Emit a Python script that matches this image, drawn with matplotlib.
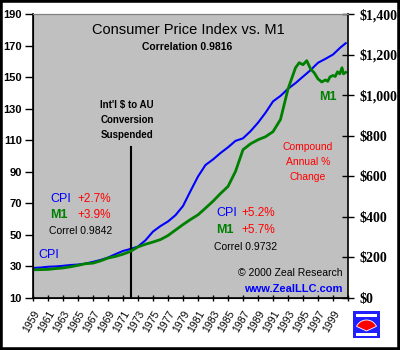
import matplotlib.pyplot as plt
from matplotlib.patches import Rectangle, Wedge

# CPI (left axis), values read at start of each year
cpi_years = [1959, 1960, 1961, 1962, 1963, 1964, 1965, 1966, 1967, 1968, 1969,
             1970, 1971, 1972, 1973, 1974, 1975, 1976, 1977, 1978, 1979, 1980,
             1981, 1982, 1983, 1984, 1985, 1986, 1987, 1988, 1989, 1990, 1991,
             1992, 1993, 1994, 1995, 1996, 1997, 1998, 1999, 2000, 2000.7]
cpi = [29.0, 29.3, 29.8, 30.0, 30.4, 30.9, 31.2, 31.8, 32.9, 34.1, 35.6,
       37.8, 39.8, 41.1, 42.6, 46.6, 52.1, 55.6, 58.5, 62.5, 68.3, 77.8,
       87.0, 94.3, 97.8, 101.9, 105.5, 109.6, 111.2, 115.7, 121.1, 127.4, 134.6,
       138.1, 142.6, 146.2, 150.3, 154.4, 159.1, 161.6, 164.3, 168.8, 171.5]

# M1 money supply, $ billions (right axis)
m1_years = [1959, 1960, 1961, 1962, 1963, 1964, 1965, 1966, 1967, 1968, 1969,
            1970, 1971, 1972, 1973, 1974, 1975, 1976, 1977, 1978, 1979, 1980,
            1981, 1982, 1983, 1984, 1985, 1986, 1987, 1988, 1989, 1990, 1991,
            1992, 1993, 1994, 1994.5, 1995, 1995.5, 1996, 1996.5, 1997, 1997.5,
            1998, 1998.3, 1998.6, 1999, 1999.3, 1999.6, 1999.9, 2000.2, 2000.4, 2000.7]
m1 = [139, 140, 141, 145, 148, 154, 161, 169, 172, 183, 197,
      205, 216, 230, 252, 265, 276, 288, 308, 335, 362, 387,
      410, 443, 477, 515, 550, 624, 731, 760, 780, 795, 820,
      880, 1030, 1135, 1160, 1150, 1170, 1130, 1110, 1080, 1065,
      1075, 1068, 1090, 1097, 1092, 1115, 1105, 1135, 1105, 1112]

year_ticks = list(range(1959, 2002, 2))
year_labels = [str(y) for y in range(1959, 2000, 2)] + ['']
left_ticks = list(range(10, 191, 20))
right_ticks = list(range(0, 1401, 200))
right_labels = ['$0', '$200', '$400', '$600', '$800', '$1,000', '$1,200', '$1,400']

W, H = 400, 350
fig = plt.figure(figsize=(4, 3.5), dpi=100)
fig.patch.set_facecolor('white')


def px(x, y):
    return x / W, 1 - y / H


ax = fig.add_axes([33 / W, 52 / H, 315 / W, 284 / H])
ax.set_facecolor('#C0C0C0')
ax.plot(cpi_years, cpi, color='#0000FF', lw=1.5)
ax.set_xlim(1959, 2001)
ax.set_ylim(10, 190)
ax.set_yticks(left_ticks)
ax.set_yticklabels([str(v) for v in left_ticks], fontsize=8, fontweight='bold',
                   family='Liberation Sans')
ax.set_xticks(year_ticks)
ax.set_xticklabels(year_labels, rotation=60, ha='right', rotation_mode='anchor',
                   fontsize=7.5, family='Liberation Sans')
ax.tick_params(axis='x', length=4, width=1, direction='inout', pad=6)
ax.tick_params(axis='y', length=6, width=1, direction='out', pad=2)
ax.axvline(1972.1, ymin=0, ymax=(298 - 147) / 284, color='black', lw=1.5)
for s in ['left', 'bottom']:
    ax.spines[s].set_linewidth(1.2)
ax.spines['top'].set_color('#808080')
ax.spines['right'].set_visible(False)

ax2 = ax.twinx()
ax2.plot(m1_years, m1, color='#008000', lw=2)
ax2.set_ylim(0, 1400)
ax2.set_yticks(right_ticks)
ax2.set_yticklabels(right_labels, fontsize=10, fontweight='bold', family='Liberation Serif')
ax2.tick_params(axis='y', length=8, width=1, direction='inout', pad=4)
ax2.spines['right'].set_linewidth(1.2)
ax2.spines['top'].set_color('#808080')

sans = 'Liberation Sans'
fig.text(*px(188, 30), 'Consumer Price Index vs. M1', ha='center', va='center',
         fontsize=10.5, family=sans)
fig.text(*px(187, 47), 'Correlation 0.9816', ha='center', va='center',
         fontsize=7.5, fontweight='bold', family=sans)
for i, line in enumerate(["Int'l $ to AU", 'Conversion', 'Suspended']):
    fig.text(*px(127, 105 + i * 15), line, ha='center', va='center',
             fontsize=7, fontweight='bold', family=sans)

fig.text(*px(50, 199), 'CPI', ha='left', va='center', color='#0000FF', fontsize=9, family=sans)
fig.text(*px(77, 199), '+2.7%', ha='left', va='center', color='#FF0000', fontsize=8.5, family=sans)
fig.text(*px(50, 215), 'M1', ha='left', va='center', color='#008000', fontsize=9,
         fontweight='bold', family=sans)
fig.text(*px(77, 215), '+3.9%', ha='left', va='center', color='#FF0000', fontsize=8.5, family=sans)
fig.text(*px(49, 231), 'Correl 0.9842', ha='left', va='center', fontsize=7.5, family=sans)

fig.text(*px(216, 213), 'CPI', ha='left', va='center', color='#0000FF', fontsize=9, family=sans)
fig.text(*px(241, 213), '+5.2%', ha='left', va='center', color='#FF0000', fontsize=8.5, family=sans)
fig.text(*px(216, 230), 'M1', ha='left', va='center', color='#008000', fontsize=9,
         fontweight='bold', family=sans)
fig.text(*px(241, 230), '+5.7%', ha='left', va='center', color='#FF0000', fontsize=8.5, family=sans)
fig.text(*px(214, 247), 'Correl 0.9732', ha='left', va='center', fontsize=7.5, family=sans)

fig.text(*px(38, 255), 'CPI', ha='left', va='center', color='#0000FF', fontsize=9, family=sans)
fig.text(*px(319, 97), 'M1', ha='left', va='center', color='#008000', fontsize=9,
         fontweight='bold', family=sans)
for i, line in enumerate(['Compound', 'Annual %', 'Change']):
    fig.text(*px(308, 147 + i * 15), line, ha='center', va='center', color='#FF0000',
             fontsize=7.5, family=sans)
fig.text(*px(343, 273), '\u00a9 2000 Zeal Research', ha='right', va='center',
         fontsize=7.5, family=sans)
fig.text(*px(343, 289), 'www.ZealLLC.com', ha='right', va='center', color='#0000FF',
         fontsize=8, fontweight='bold', family=sans)

# small logo, bottom right
logo_ax = fig.add_axes([353 / W, 12 / H, 27 / W, 27 / H])
logo_ax.set_zorder(5)
logo_ax.set_xlim(0, 27)
logo_ax.set_ylim(0, 27)
logo_ax.axis('off')
logo_ax.add_patch(Rectangle((0, 0), 27, 27, facecolor='#2020FF', edgecolor='none'))
logo_ax.add_patch(Rectangle((3, 21), 21, 3, facecolor='white', edgecolor='none'))
logo_ax.add_patch(Rectangle((3, 2), 21, 3, facecolor='white', edgecolor='none'))
logo_ax.add_patch(Wedge((13.5, 7), 11, 25, 155, facecolor='#FF0000', edgecolor='white', lw=0.6))

# black frame around the image
fig.patches.append(Rectangle((0, 0), 1, 1, transform=fig.transFigure, fill=False,
                             edgecolor='black', lw=4))

fig.savefig('out.png', dpi=100)
